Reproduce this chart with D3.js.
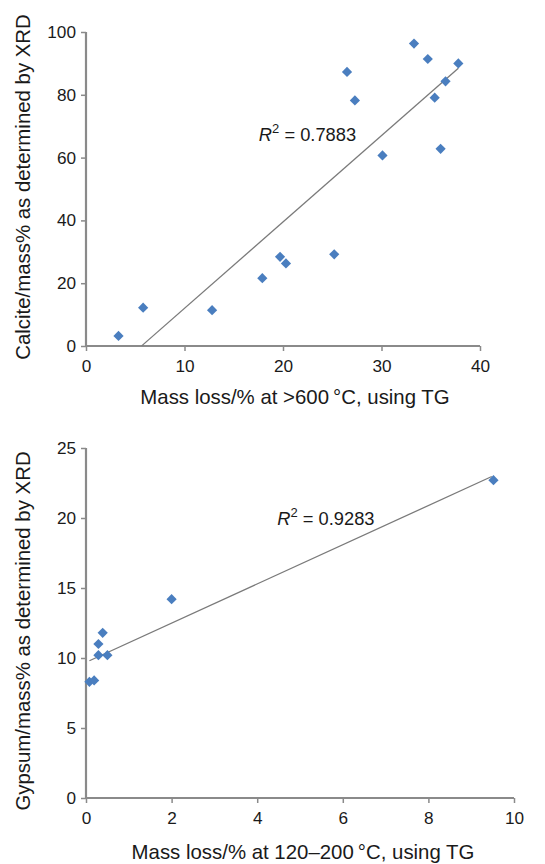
<!DOCTYPE html>
<html>
<head>
<meta charset="utf-8">
<script src="https://cdn.jsdelivr.net/npm/d3@7"></script>
<style>
  body { margin: 0; background: #fff; }
  text { font-family: "Liberation Sans", Arial, sans-serif; fill: #1a1a1a; }
</style>
</head>
<body>
<div id="chart"></div>
<script>
// calcite panel: mass loss > 600 C vs calcite by XRD
const calciteX = [3.3, 5.8, 12.8, 17.9, 19.7, 20.3, 25.2, 26.5, 27.3, 30.1, 33.3, 34.7, 35.4, 36.0, 36.5, 37.8];
const calciteY = [3.2, 12.2, 11.4, 21.6, 28.4, 26.3, 29.2, 87.3, 78.2, 60.7, 96.3, 91.4, 79.1, 62.8, 84.3, 90.0];
const calciteFit = { slope: 2.75, intercept: -15.5, from: 5.65, to: 37.8 };
const calciteTicksX = [0, 10, 20, 30, 40];
const calciteTicksY = [0, 20, 40, 60, 80, 100];

// gypsum panel: mass loss 120-200 C vs gypsum by XRD
const gypsumX = [0.08, 0.19, 0.29, 0.29, 0.39, 0.5, 2.0, 9.52];
const gypsumY = [8.3, 8.4, 10.2, 11.0, 11.8, 10.2, 14.2, 22.7];
const gypsumFit = { slope: 1.40, intercept: 9.69, from: 0.08, to: 9.48 };
const gypsumTicksX = [0, 2, 4, 6, 8, 10];
const gypsumTicksY = [0, 5, 10, 15, 20, 25];

const svg = d3.select("#chart").append("svg")
    .attr("width", 545)
    .attr("height", 864);

const axisColor = "#8a8a8a";
const dotColor = "#4a7ebf";

function panel(opt) {
    var x = d3.scaleLinear().domain(opt.xDomain).range([86, opt.right]);
    var y = d3.scaleLinear().domain(opt.yDomain).range([opt.bottom, opt.top]);
    var g = svg.append("g");

    // axes
    var ax = g.append("g")
        .attr("transform", "translate(0," + opt.bottom + ")")
        .call(d3.axisBottom(x).tickValues(opt.xTicks).tickSize(5).tickPadding(9));
    var ay = g.append("g")
        .attr("transform", "translate(86,0)")
        .call(d3.axisLeft(y).tickValues(opt.yTicks).tickSize(5).tickPadding(5));
    [ax, ay].forEach(function (a) {
        a.select(".domain").attr("stroke", axisColor).attr("stroke-width", 2.2);
        a.selectAll(".tick line").attr("stroke", axisColor).attr("stroke-width", 1.5);
        a.selectAll(".tick text")
            .style("font-family", "'Liberation Sans', Arial, sans-serif")
            .style("font-size", "17.2px").attr("fill", "#1a1a1a");
    });
    ax.select(".domain").attr("d", "M" + x.range()[0] + ",0H" + x.range()[1]);
    ay.select(".domain").attr("d", "M0," + y.range()[0] + "V" + y.range()[1]);

    // trend line
    var f = opt.fit;
    g.append("line")
        .attr("x1", x(f.from)).attr("y1", y(f.slope * f.from + f.intercept))
        .attr("x2", x(f.to)).attr("y2", y(f.slope * f.to + f.intercept))
        .attr("stroke", "#7a7a7a").attr("stroke-width", 1.3);

    // points
    g.selectAll(".pt")
        .data(d3.zip(opt.xs, opt.ys))
        .join("path")
        .attr("class", "pt")
        .attr("d", d3.symbol(d3.symbolSquare, 52))
        .attr("transform", function (d) { return "translate(" + x(d[0]) + "," + y(d[1]) + ") rotate(45)"; })
        .attr("fill", dotColor);

    // r squared
    var t = g.append("text")
        .attr("x", x(opt.label[0])).attr("y", y(opt.label[1]))
        .style("font-size", "18.3px");
    t.append("tspan").style("font-style", "italic").text("R");
    t.append("tspan").attr("dy", -8).style("font-size", "13px").text("2");
    t.append("tspan").attr("dy", 8).text(" = " + opt.r2);

    // titles
    g.append("text")
        .attr("x", opt.xTitleMid)
        .attr("y", opt.xTitleY)
        .attr("text-anchor", "middle")
        .style("font-size", "20.4px")
        .text(opt.xTitle);
    g.append("text")
        .attr("transform", "translate(30," + opt.yTitleMid + ") rotate(-90)")
        .attr("text-anchor", "middle")
        .style("font-size", "20.4px")
        .text(opt.yTitle);
}

panel({
    xDomain: [0, 40], yDomain: [0, 100], right: 480, top: 32, bottom: 346,
    xTicks: calciteTicksX, yTicks: calciteTicksY,
    xs: calciteX, ys: calciteY, fit: calciteFit,
    label: [17.55, 65.2], r2: "0.7883",
    xTitle: "Mass loss/% at >600\u2009°C, using TG", xTitleMid: 295, xTitleY: 404,
    yTitle: "Calcite/mass% as determined by XRD", yTitleMid: 187
});

panel({
    xDomain: [0, 10], yDomain: [0, 25], right: 514, top: 448, bottom: 798,
    xTicks: gypsumTicksX, yTicks: gypsumTicksY,
    xs: gypsumX, ys: gypsumY, fit: gypsumFit,
    label: [4.47, 19.5], r2: "0.9283",
    xTitle: "Mass loss/% at 120\u2013200\u2009°C, using TG", xTitleMid: 303, xTitleY: 859,
    yTitle: "Gypsum/mass% as determined by XRD", yTitleMid: 631
});
</script>
</body>
</html>
